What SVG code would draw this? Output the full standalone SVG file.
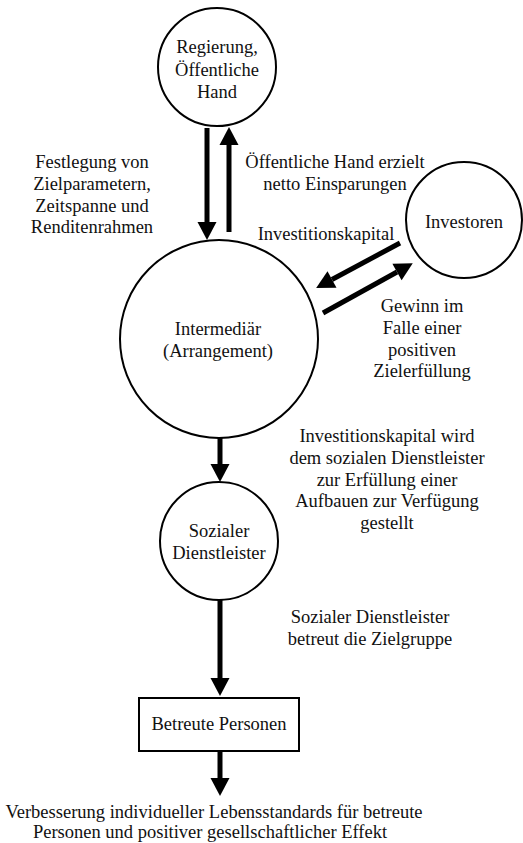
<svg xmlns="http://www.w3.org/2000/svg" width="523" height="843" viewBox="0 0 523 843">
<style>
  .node { fill: #fff; stroke: #000; stroke-width: 2; }
  .t { font-family: "Liberation Serif", "Times New Roman", serif; font-size: 18.5px; fill: #111; text-anchor: middle; }
  .c { stroke: #000; stroke-width: 5; fill: none; }
</style>
<defs>
  <marker id="ah" markerUnits="userSpaceOnUse" markerWidth="19" markerHeight="19" refX="0" refY="9.5" orient="auto" overflow="visible">
    <path d="M0,0 L18,9.5 L0,19 z" fill="#000"/>
  </marker>
</defs>
<rect width="523" height="843" fill="#fff"/>

<g id="connectors">
  <line class="c" x1="207" y1="128" x2="207" y2="222" marker-end="url(#ah)"/>
  <line class="c" x1="229" y1="232" x2="229" y2="145" marker-end="url(#ah)"/>
  <line class="c" x1="400" y1="243" x2="332" y2="279.5" marker-end="url(#ah)"/>
  <line class="c" x1="323" y1="313" x2="397" y2="272" marker-end="url(#ah)"/>
  <line class="c" x1="220" y1="437" x2="220" y2="464" marker-end="url(#ah)"/>
  <line class="c" x1="220" y1="600" x2="220" y2="678" marker-end="url(#ah)"/>
  <line class="c" x1="220" y1="751" x2="220" y2="778" marker-end="url(#ah)"/>
  <g id="edge-labels">
    <text class="t" x="92" y="168">Festlegung von</text>
    <text class="t" x="92" y="190">Zielparametern,</text>
    <text class="t" x="92" y="212">Zeitspanne und</text>
    <text class="t" x="92" y="233">Renditenrahmen</text>
    <text class="t" x="335" y="168">Öffentliche Hand erzielt</text>
    <text class="t" x="335" y="190">netto Einsparungen</text>
    <text class="t" x="326" y="240">Investitionskapital</text>
    <text class="t" x="422" y="312">Gewinn im</text>
    <text class="t" x="422" y="334">Falle einer</text>
    <text class="t" x="422" y="356">positiven</text>
    <text class="t" x="422" y="377">Zielerfüllung</text>
    <text class="t" x="387" y="442">Investitionskapital wird</text>
    <text class="t" x="387" y="464">dem sozialen Dienstleister</text>
    <text class="t" x="387" y="486">zur Erfüllung einer</text>
    <text class="t" x="387" y="507">Aufbauen zur Verfügung</text>
    <text class="t" x="387" y="529">gestellt</text>
    <text class="t" x="370" y="623">Sozialer Dienstleister</text>
    <text class="t" x="370" y="645">betreut die Zielgruppe</text>
    <text class="t" x="214" y="818">Verbesserung individueller Lebensstandards für betreute</text>
    <text class="t" x="210" y="838">Personen und positiver gesellschaftlicher Effekt</text>
  </g>
</g>

<g id="regierung">
  <circle class="node" cx="217" cy="67" r="59"/>
  <text class="t" x="217" y="53">Regierung,</text>
  <text class="t" x="217" y="76">Öffentliche</text>
  <text class="t" x="217" y="98">Hand</text>
</g>

<g id="intermediaer">
  <circle class="node" cx="219" cy="339" r="99"/>
  <text class="t" x="218" y="335">Intermediär</text>
  <text class="t" x="218" y="357">(Arrangement)</text>
</g>

<g id="investoren">
  <circle class="node" cx="464" cy="220" r="58"/>
  <text class="t" x="464" y="228">Investoren</text>
</g>

<g id="sozialer">
  <circle class="node" cx="219" cy="541" r="59"/>
  <text class="t" x="219" y="537">Sozialer</text>
  <text class="t" x="219" y="559">Dienstleister</text>
</g>

<g id="betreute">
  <rect class="node" x="139" y="698" width="160" height="53"/>
  <text class="t" x="219" y="730">Betreute Personen</text>
</g>
</svg>
